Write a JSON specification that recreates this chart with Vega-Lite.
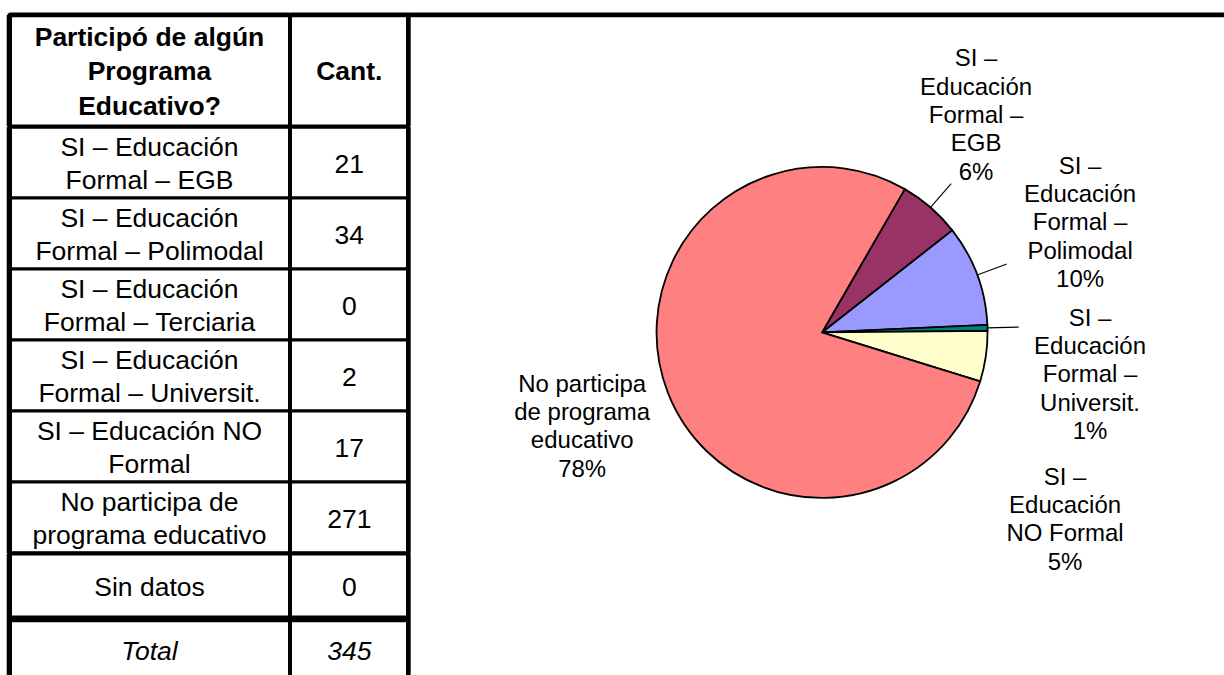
{
  "$schema": "https://vega.github.io/schema/vega-lite/v6.json",
  "padding": {"left": 7.35, "top": 11.95, "right": 0, "bottom": 0},
  "background": "white",
  "columns": 3,
  "spacing": 0,
  "bounds": "flush",
  "config": {"font": "Liberation Sans", "view": {"stroke": null}, "text": {"color": "black"}},
  "datasets": {
    "encabezado": [{"col1": "Participó de algún\nPrograma\nEducativo?", "col2": "Cant."}],
    "tabla": [
      {"n": 1, "categoria": "SI – Educación\nFormal – EGB", "etiqueta": "SI –\nEducación\nFormal –\nEGB\n6%", "cant": 21},
      {"n": 2, "categoria": "SI – Educación\nFormal – Polimodal", "etiqueta": "SI –\nEducación\nFormal –\nPolimodal\n10%", "cant": 34},
      {"n": 3, "categoria": "SI – Educación\nFormal – Terciaria", "etiqueta": "SI –\nEducación\nFormal –\nTerciaria\n0%", "cant": 0},
      {"n": 4, "categoria": "SI – Educación\nFormal – Universit.", "etiqueta": "SI –\nEducación\nFormal –\nUniversit.\n1%", "cant": 2},
      {"n": 5, "categoria": "SI – Educación NO\nFormal", "etiqueta": "SI –\nEducación\nNO Formal\n5%", "cant": 17},
      {"n": 6, "categoria": "No participa de\nprograma educativo", "etiqueta": "No participa\nde programa\neducativo\n78%", "cant": 271},
      {"n": 7, "categoria": "Sin datos", "etiqueta": "Sin datos\n0%", "cant": 0}
    ],
    "total": [{"categoria": "Total", "cant": 345}]
  },
  "concat": [
    {
      "data": {"name": "encabezado"},
      "width": 280.3, "height": 111.2,
      "view": {"stroke": "black", "strokeWidth": 3.3},
      "mark": {"type": "text", "fontSize": 26.5, "fontWeight": "bold", "lineBreak": "\n", "lineHeight": 34.5, "dy": -33},
      "encoding": {
        "text": {"field": "col1", "type": "nominal"},
        "x": {"field": "col1", "type": "nominal", "scale": {"type": "band", "paddingInner": 0, "paddingOuter": 0},
              "axis": {"orient": "top", "title": null, "labels": false, "ticks": false, "domain": true, "domainColor": "black", "domainWidth": 4.7, "grid": false, "translate": 0, "offset": 0, "minExtent": 0, "maxExtent": 0}},
        "y": {"field": "col1", "type": "nominal", "scale": {"type": "band", "paddingInner": 0, "paddingOuter": 0},
              "axis": {"orient": "left", "title": null, "labels": false, "ticks": false, "domain": true, "domainColor": "black", "domainWidth": 5.3, "grid": false, "translate": 0, "offset": 0, "minExtent": 0, "maxExtent": 0}}
      }
    },
    {
      "data": {"name": "encabezado"},
      "width": 118, "height": 111.2,
      "view": {"stroke": "black", "strokeWidth": 3.3},
      "mark": {"type": "text", "fontSize": 26.5, "fontWeight": "bold", "dy": 1.5},
      "encoding": {
        "text": {"field": "col2", "type": "nominal"},
        "x": {"field": "col2", "type": "nominal", "scale": {"type": "band", "paddingInner": 0, "paddingOuter": 0},
              "axis": {"orient": "top", "title": null, "labels": false, "ticks": false, "domain": true, "domainColor": "black", "domainWidth": 4.7, "grid": false, "translate": 0, "offset": 0, "minExtent": 0, "maxExtent": 0}},
        "y": {"field": "col2", "type": "nominal", "scale": {"type": "band", "paddingInner": 0, "paddingOuter": 0},
              "axis": {"orient": "right", "title": null, "labels": false, "ticks": false, "domain": true, "domainColor": "black", "domainWidth": 4.7, "grid": false, "translate": 0, "offset": 0, "minExtent": 0, "maxExtent": 0}}
      }
    },
    {
      "data": {"values": []},
      "width": 827.4, "height": 111.2,
      "view": {"stroke": "black", "strokeWidth": 4.7, "strokeDash": [827.4, 3000]},
      "mark": {"type": "text"},
      "encoding": {}
    },
    {
      "data": {"name": "tabla"},
      "transform": [{"filter": "datum.n <= 6"}],
      "width": 280.3, "height": 426.5,
      "view": {"stroke": "black", "strokeWidth": 3.3},
      "mark": {"type": "text", "fontSize": 26.5, "lineBreak": "\n", "lineHeight": 32.7, "dy": -14.4},
      "encoding": {
        "text": {"field": "categoria", "type": "nominal"},
        "y": {"field": "n", "type": "ordinal", "scale": {"type": "band", "paddingInner": 0, "paddingOuter": 0},
              "axis": {"orient": "left", "title": null, "labels": false, "ticks": false, "domain": true, "domainColor": "black", "domainWidth": 5.3, "grid": true, "gridColor": "black", "gridWidth": 3.3, "gridOpacity": 1, "tickBand": "extent", "translate": 0, "offset": 0, "minExtent": 0, "maxExtent": 0}}
      }
    },
    {
      "data": {"name": "tabla"},
      "transform": [{"filter": "datum.n <= 6"}],
      "width": 118, "height": 426.5,
      "view": {"stroke": "black", "strokeWidth": 3.3},
      "mark": {"type": "text", "fontSize": 26.5, "dy": 2.5},
      "encoding": {
        "text": {"field": "cant", "type": "quantitative"},
        "y": {"field": "n", "type": "ordinal", "scale": {"type": "band", "paddingInner": 0, "paddingOuter": 0},
              "axis": {"orient": "right", "title": null, "labels": false, "ticks": false, "domain": true, "domainColor": "black", "domainWidth": 4.7, "grid": true, "gridColor": "black", "gridWidth": 3.3, "gridOpacity": 1, "tickBand": "extent", "translate": 0, "offset": 0, "minExtent": 0, "maxExtent": 0}}
      }
    },
    {
      "data": {"name": "tabla"},
      "transform": [{"filter": "datum.cant > 0"}],
      "width": 827.4, "height": 411,
      "encoding": {
        "theta": {"field": "cant", "type": "quantitative", "stack": true, "scale": {"range": [0.5236, 6.8068]}},
        "order": {"field": "n", "type": "quantitative"}
      },
      "layer": [
        {
          "mark": {"type": "arc", "outerRadius": 165.5, "stroke": "black", "strokeWidth": 1.8},
          "encoding": {
            "color": {"field": "n", "type": "nominal", "legend": null,
                      "scale": {"domain": [1, 2, 4, 5, 6], "range": ["#993366", "#9999FF", "#008080", "#FFFFCC", "#FF8080"]}}
          }
        },
        {
          "mark": {"type": "arc", "innerRadius": 165.5, "outerRadius": 197, "padAngle": 3, "filled": false, "stroke": "black", "strokeWidth": 1.1},
          "encoding": {
            "strokeOpacity": {"condition": {"test": "datum.n >= 5", "value": 0}, "value": 1}
          }
        },
        {
          "mark": {"type": "text", "radius": 262, "dx": -17.7, "dy": -75.1, "fontSize": 24, "lineHeight": 28.3, "lineBreak": "\n", "align": "center", "baseline": "middle"},
          "encoding": {"text": {"condition": {"test": "datum.n == 1", "field": "etiqueta", "type": "nominal"}, "value": ""}}
        },
        {
          "mark": {"type": "text", "radius": 262, "dx": 12.4, "dy": -74.5, "fontSize": 24, "lineHeight": 28.3, "lineBreak": "\n", "align": "center", "baseline": "middle"},
          "encoding": {"text": {"condition": {"test": "datum.n == 2", "field": "etiqueta", "type": "nominal"}, "value": ""}}
        },
        {
          "mark": {"type": "text", "radius": 262, "dx": 6.1, "dy": -6.6, "fontSize": 24, "lineHeight": 28.3, "lineBreak": "\n", "align": "center", "baseline": "middle"},
          "encoding": {"text": {"condition": {"test": "datum.n == 4", "field": "etiqueta", "type": "nominal"}, "value": ""}}
        },
        {
          "mark": {"type": "text", "radius": 262, "dx": -16.2, "dy": 107.3, "fontSize": 24, "lineHeight": 28.3, "lineBreak": "\n", "align": "center", "baseline": "middle"},
          "encoding": {"text": {"condition": {"test": "datum.n == 5", "field": "etiqueta", "type": "nominal"}, "value": ""}}
        },
        {
          "mark": {"type": "text", "radius": 262, "dx": 4.1, "dy": -43.3, "fontSize": 24, "lineHeight": 28.3, "lineBreak": "\n", "align": "center", "baseline": "middle"},
          "encoding": {"text": {"condition": {"test": "datum.n == 6", "field": "etiqueta", "type": "nominal"}, "value": ""}}
        }
      ]
    },
    {
      "data": {"name": "tabla"},
      "transform": [{"filter": "datum.n == 7"}],
      "width": 280.3, "height": 65,
      "view": {"stroke": "black", "strokeWidth": 3.3},
      "mark": {"type": "text", "fontSize": 26.5, "dy": 2},
      "encoding": {
        "text": {"field": "categoria", "type": "nominal"},
        "y": {"field": "n", "type": "ordinal", "scale": {"type": "band", "paddingInner": 0, "paddingOuter": 0},
              "axis": {"orient": "left", "title": null, "labels": false, "ticks": false, "domain": true, "domainColor": "black", "domainWidth": 5.3, "grid": false, "translate": 0, "offset": 0, "minExtent": 0, "maxExtent": 0}}
      }
    },
    {
      "data": {"name": "tabla"},
      "transform": [{"filter": "datum.n == 7"}],
      "width": 118, "height": 65,
      "view": {"stroke": "black", "strokeWidth": 3.3},
      "mark": {"type": "text", "fontSize": 26.5, "dy": 2},
      "encoding": {
        "text": {"field": "cant", "type": "quantitative"},
        "y": {"field": "n", "type": "ordinal", "scale": {"type": "band", "paddingInner": 0, "paddingOuter": 0},
              "axis": {"orient": "right", "title": null, "labels": false, "ticks": false, "domain": true, "domainColor": "black", "domainWidth": 4.7, "grid": false, "translate": 0, "offset": 0, "minExtent": 0, "maxExtent": 0}}
      }
    },
    {
      "data": {"values": []},
      "width": 1, "height": 1,
      "mark": {"type": "text"},
      "encoding": {}
    },
    {
      "data": {"name": "total"},
      "width": 280.3, "height": 56,
      "view": {"stroke": "black", "strokeWidth": 3.3, "strokeDash": [336.3, 280.3, 56]},
      "mark": {"type": "text", "fontSize": 26.5, "fontStyle": "italic", "dy": 5},
      "encoding": {
        "text": {"field": "categoria", "type": "nominal"},
        "x": {"field": "categoria", "type": "nominal", "scale": {"type": "band", "paddingInner": 0, "paddingOuter": 0},
              "axis": {"orient": "top", "title": null, "labels": false, "ticks": false, "domain": true, "domainColor": "black", "domainWidth": 6.7, "grid": false, "translate": 0, "offset": 0, "minExtent": 0, "maxExtent": 0}},
        "y": {"field": "categoria", "type": "nominal", "scale": {"type": "band", "paddingInner": 0, "paddingOuter": 0},
              "axis": {"orient": "left", "title": null, "labels": false, "ticks": false, "domain": true, "domainColor": "black", "domainWidth": 5.3, "grid": false, "translate": 0, "offset": 0, "minExtent": 0, "maxExtent": 0}}
      }
    },
    {
      "data": {"name": "total"},
      "width": 118, "height": 56,
      "view": {"stroke": "black", "strokeWidth": 3.3, "strokeDash": [174, 118, 56]},
      "mark": {"type": "text", "fontSize": 26.5, "fontStyle": "italic", "dy": 5},
      "encoding": {
        "text": {"field": "cant", "type": "quantitative"},
        "x": {"field": "categoria", "type": "nominal", "scale": {"type": "band", "paddingInner": 0, "paddingOuter": 0},
              "axis": {"orient": "top", "title": null, "labels": false, "ticks": false, "domain": true, "domainColor": "black", "domainWidth": 6.7, "grid": false, "translate": 0, "offset": 0, "minExtent": 0, "maxExtent": 0}},
        "y": {"field": "categoria", "type": "nominal", "scale": {"type": "band", "paddingInner": 0, "paddingOuter": 0},
              "axis": {"orient": "right", "title": null, "labels": false, "ticks": false, "domain": true, "domainColor": "black", "domainWidth": 4.7, "grid": false, "translate": 0, "offset": 0, "minExtent": 0, "maxExtent": 0}}
      }
    }
  ]
}
